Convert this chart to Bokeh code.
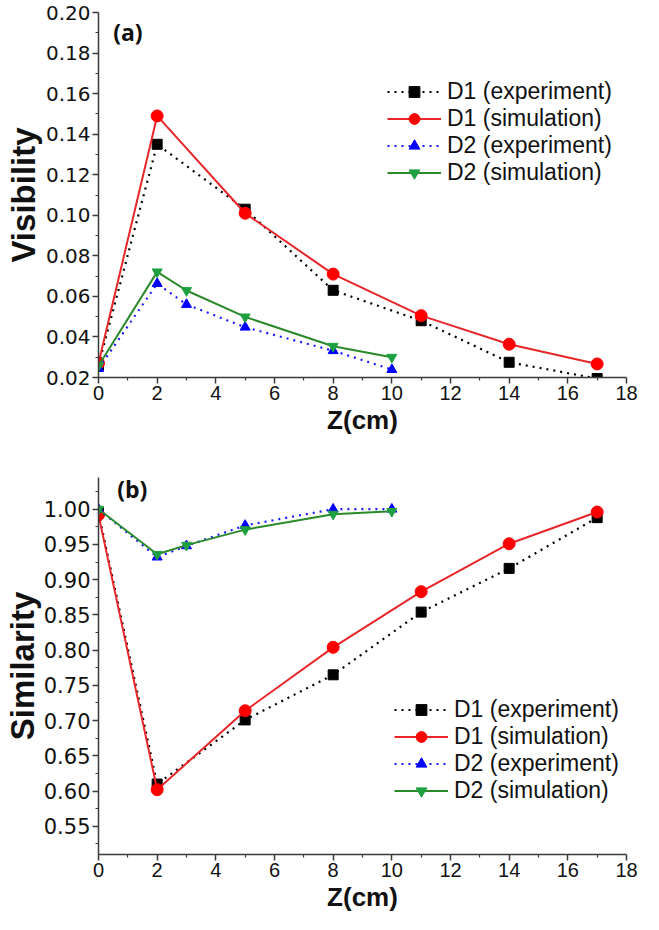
from bokeh.plotting import figure
from bokeh.layouts import column
from bokeh.models import FixedTicker, PrintfTickFormatter, Legend, LegendItem, Label, Range1d
from bokeh.embed import file_html
from bokeh.resources import INLINE

# ---------------- data ----------------
z_d1 = [0, 2, 5, 8, 11, 14, 17]
z_d2 = [0, 2, 3, 5, 8, 10]

vis_d1_exp = [0.026, 0.135, 0.103, 0.063, 0.048, 0.0275, 0.0195]
vis_d1_sim = [0.027, 0.149, 0.101, 0.071, 0.0505, 0.0364, 0.0267]
vis_d2_exp = [0.0244, 0.0663, 0.056, 0.0448, 0.0332, 0.0239]
vis_d2_sim = [0.0258, 0.0721, 0.0629, 0.0499, 0.0354, 0.030]

sim_d1_exp = [0.995, 0.610, 0.701, 0.765, 0.854, 0.916, 0.988]
sim_d1_sim = [0.992, 0.602, 0.714, 0.804, 0.883, 0.951, 0.996]
sim_d2_exp = [1.0, 0.932, 0.948, 0.977, 1.0, 1.0]
sim_d2_sim = [1.0, 0.936, 0.949, 0.971, 0.993, 0.997]

x_ticks = [0, 2, 4, 6, 8, 10, 12, 14, 16, 18]
x_minor = [1, 3, 5, 7, 9, 11, 13, 15, 17]
vis_ticks = [0.02, 0.04, 0.06, 0.08, 0.10, 0.12, 0.14, 0.16, 0.18, 0.20]
vis_minor = [0.03, 0.05, 0.07, 0.09, 0.11, 0.13, 0.15, 0.17, 0.19]
sim_ticks = [0.55, 0.60, 0.65, 0.70, 0.75, 0.80, 0.85, 0.90, 0.95, 1.00]
sim_minor = [0.525, 0.575, 0.625, 0.675, 0.725, 0.775, 0.825, 0.875, 0.925, 0.975, 1.025]

legend_labels = ["D1 (experiment)", "D1 (simulation)", "D2 (experiment)", "D2 (simulation)"]

AXIS_COLOR = "#3a3a3a"


def make_panel(height, borders, y_range, y_ticks, y_minor, y_title, tick_font, tick_size,
               title_standoff, series, legend_loc, tag, tag_xy):
    left, right, top, bottom = borders
    p = figure(width=651, height=height, x_range=Range1d(0, 18), y_range=Range1d(*y_range),
               output_backend="svg", toolbar_location=None,
               min_border_left=left, min_border_right=right,
               min_border_top=top, min_border_bottom=bottom)
    p.outline_line_color = None
    p.xgrid.visible = False
    p.ygrid.visible = False
    p.background_fill_color = "white"

    p.xaxis.ticker = FixedTicker(ticks=x_ticks, minor_ticks=x_minor)
    p.yaxis.ticker = FixedTicker(ticks=y_ticks, minor_ticks=y_minor)
    p.xaxis.formatter = PrintfTickFormatter(format="%d")
    p.yaxis.formatter = PrintfTickFormatter(format="%.2f")

    for ax in (p.xaxis, p.yaxis):
        ax.axis_line_color = AXIS_COLOR
        ax.axis_line_width = 1.5
        ax.major_tick_line_color = AXIS_COLOR
        ax.major_tick_line_width = 1.5
        ax.minor_tick_line_color = AXIS_COLOR
        ax.minor_tick_line_width = 1.2
        ax.major_tick_in = 0
        ax.major_tick_out = 6
        ax.minor_tick_in = 0
        ax.minor_tick_out = 3
        ax.major_label_text_color = "#111111"
        ax.axis_label_text_color = "#111111"
        ax.axis_label_text_font = "Liberation Sans"
        ax.axis_label_text_font_style = "bold"

    p.xaxis.major_label_text_font = "Liberation Sans"
    p.xaxis.major_label_text_font_size = "20px"
    p.xaxis.major_label_standoff = 2
    p.xaxis.axis_label = "Z(cm)"
    p.xaxis.axis_label_text_font_size = "26px"
    p.xaxis.axis_label_standoff = 2

    p.yaxis.major_label_text_font = tick_font
    p.yaxis.major_label_text_font_size = tick_size
    p.yaxis.major_label_standoff = 2
    p.yaxis.axis_label = y_title
    p.yaxis.axis_label_text_font_size = "33px"
    p.yaxis.axis_label_standoff = title_standoff

    d1e, d1s, d2e, d2s = series
    r1l = p.line(z_d1, d1e, line_color="black", line_width=2.2, line_dash="2 5")
    r1m = p.scatter(z_d1, d1e, marker="square", size=10, fill_color="black", line_color="black")
    r2l = p.line(z_d1, d1s, line_color="#e8262a", line_width=2)
    r2m = p.scatter(z_d1, d1s, marker="circle", size=12, fill_color="#ff0000", line_color="#ff0000")
    r3l = p.line(z_d2, d2e, line_color="#1a1aff", line_width=2.2, line_dash="2 5")
    r3m = p.scatter(z_d2, d2e, marker="triangle", size=10, fill_color="#0000ff", line_color="#0000ff")
    r4l = p.line(z_d2, d2s, line_color="#2a8a2a", line_width=2)
    r4m = p.scatter(z_d2, d2s, marker="inverted_triangle", size=10, fill_color="#1fa040", line_color="#1fa040")

    items = [LegendItem(label=legend_labels[0], renderers=[r1l, r1m]),
             LegendItem(label=legend_labels[1], renderers=[r2l, r2m]),
             LegendItem(label=legend_labels[2], renderers=[r3l, r3m]),
             LegendItem(label=legend_labels[3], renderers=[r4l, r4m])]
    legend = Legend(items=items, location=legend_loc)
    legend.label_text_font = "Liberation Sans"
    legend.label_text_font_size = "23px"
    legend.label_text_color = "#111111"
    legend.glyph_width = 54
    legend.glyph_height = 27
    legend.label_height = 27
    legend.label_standoff = 6
    legend.spacing = 0
    legend.padding = 0
    legend.margin = 0
    legend.border_line_color = None
    legend.background_fill_alpha = 0
    p.add_layout(legend)

    p.add_layout(Label(x=tag_xy[0], y=tag_xy[1], text=tag, text_font="Open Sans",
                       text_font_style="bold", text_font_size="23px",
                       text_baseline="middle", text_color="#111111"))
    return p


pa = make_panel(450, (96, 14, 12, 73), (0.02, 0.20), vis_ticks, vis_minor, "Visibility",
                "DejaVu Sans", "20px", 1,
                (vis_d1_exp, vis_d1_sim, vis_d2_exp, vis_d2_sim), (289, 191), "(a)", (0.5, 0.1905))
pb = make_panel(464, (93, 25, 27, 58), (0.51, 1.045), sim_ticks, sim_minor, "Similarity",
                "DejaVu Sans", "21px", 0,
                (sim_d1_exp, sim_d1_sim, sim_d2_exp, sim_d2_sim), (296, 50), "(b)", (0.64, 1.0286))

layout = column(pa, pb, spacing=0)
open("out.html", "w").write(file_html(layout, INLINE))
